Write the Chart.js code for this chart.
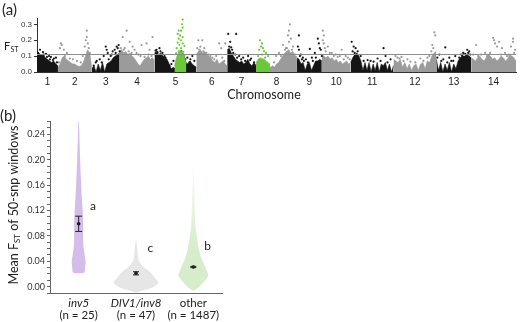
<!DOCTYPE html>
<html>
<head>
<meta charset="utf-8">
<script src="https://cdn.jsdelivr.net/npm/chart.js@4.4.0/dist/chart.umd.min.js"></script>
<style>
  html, body { margin: 0; padding: 0; background: #fff; }
  #wrap { position: relative; width: 520px; height: 322px; }
  canvas { position: absolute; left: 0; }
  #manhattan { top: 0; }
  #violins { top: 105px; }
</style>
</head>
<body>
<div id="wrap">
  <canvas id="manhattan" width="520" height="105"></canvas>
  <canvas id="violins" width="520" height="217"></canvas>
</div>
<script>
// ---- panel (a): genome scan ----
const chromLabels = ['1', '2', '3', '4', '5', '6', '7', '8', '9', '10', '11', '12', '13', '14'];
const chromBounds = [0, 21, 55, 83, 118, 160, 191, 220, 261, 286, 315, 358, 401, 436, 481];
const fstTicks = [0, 0.1, 0.2, 0.3];
const fstThreshold = 0.11;

// upper edge of the dense band of windows, left to right inside each chromosome
const chromEnvelope = [
  [0.13, 0.12, 0.10, 0.11, 0.09, 0.08, 0.07, 0.06, 0.07, 0.05, 0.04],
  [0.03, 0.05, 0.09, 0.10, 0.08, 0.07, 0.06, 0.05, 0.05, 0.04, 0.035, 0.04, 0.06, 0.10, 0.14, 0.12, 0.03],
  [0.02, 0.04, 0.0, 0.05, 0.01, 0.06, 0.0, 0.05, 0.06, 0.07, 0.09, 0.10, 0.11, 0.12],
  [0.13, 0.14, 0.12, 0.13, 0.11, 0.12, 0.10, 0.09, 0.07, 0.05, 0.04, 0.06, 0.08, 0.09, 0.10, 0.08, 0.09, 0.07],
  [0.12, 0.13, 0.11, 0.12, 0.10, 0.09, 0.08, 0.05, 0.02, 0.03, 0.02, 0.03, 0.05, 0.10, 0.11, 0.06, 0.05, 0.07, 0.05, 0.04, 0.03],
  [0.11, 0.13, 0.14, 0.12, 0.13, 0.11, 0.10, 0.09, 0.07, 0.06, 0.08, 0.05, 0.06, 0.07, 0.05, 0.04],
  [0.14, 0.15, 0.12, 0.10, 0.08, 0.07, 0.06, 0.07, 0.05, 0.06, 0.08, 0.05, 0.04, 0.06, 0.04],
  [0.04, 0.05, 0.05, 0.05, 0.04, 0.04, 0.03, 0.03, 0.04, 0.03, 0.05, 0.06, 0.08, 0.10, 0.12, 0.13, 0.14, 0.12, 0.13, 0.10, 0.08],
  [0.09, 0.08, 0.05, 0.06, 0.01, 0.05, 0.06, 0.01, 0.04, 0.07, 0.07, 0.08, 0.07],
  [0.11, 0.10, 0.09, 0.10, 0.08, 0.09, 0.07, 0.08, 0.06, 0.07, 0.05, 0.06, 0.07, 0.05, 0.06],
  [0.06, 0.09, 0.11, 0.12, 0.10, 0.07, 0.01, 0.06, 0.01, 0.06, 0.0, 0.05, 0.01, 0.06, 0.0, 0.05, 0.04, 0.06, 0.01, 0.05, 0.0, 0.04],
  [0.08, 0.07, 0.06, 0.08, 0.03, 0.06, 0.02, 0.05, 0.01, 0.04, 0.05, 0.01, 0.05, 0.06, 0.02, 0.07, 0.06, 0.10, 0.12, 0.13],
  [0.08, 0.01, 0.06, 0.0, 0.05, 0.01, 0.06, 0.0, 0.05, 0.02, 0.07, 0.09, 0.10, 0.10, 0.11, 0.10, 0.09],
  [0.09, 0.08, 0.07, 0.09, 0.10, 0.08, 0.07, 0.09, 0.11, 0.10, 0.08, 0.09, 0.07, 0.08, 0.10, 0.09, 0.07, 0.08, 0.11, 0.10, 0.09, 0.07]
];

// single windows standing out of the band: [position, Fst]
const chromOutliers = [
  [[3, 0.14], [6, 0.125], [9, 0.115], [12, 0.10], [14, 0.095], [17, 0.085], [19, 0.09], [1, 0.12], [4, 0.105], [7, 0.11], [10, 0.095], [13, 0.08], [16, 0.075], [20, 0.06]],
  [[24, 0.18], [25, 0.17], [27, 0.14], [23, 0.15], [30, 0.12], [50, 0.26], [50, 0.22], [49, 0.2], [51, 0.18], [48, 0.16], [52, 0.15],
   [22, 0.06], [28, 0.1], [33, 0.085], [36, 0.08], [40, 0.07], [44, 0.06], [46, 0.1], [53, 0.12]],
  [[60, 0.07], [63, 0.08], [65, 0.06], [67, 0.1], [69, 0.16], [70, 0.14], [71, 0.12], [76, 0.13], [78, 0.14], [80, 0.16], [81, 0.15], [82, 0.17], [74, 0.1],
   [57, 0.04], [59, 0.06], [72, 0.08], [75, 0.11], [79, 0.12], [83, 0.13]],
  [[86, 0.22], [90, 0.26], [93, 0.19], [96, 0.16], [88, 0.15], [98, 0.14], [105, 0.17], [116, 0.22], [110, 0.18], [113, 0.14], [100, 0.12],
   [84, 0.15], [87, 0.14], [92, 0.13], [95, 0.12], [102, 0.11], [104, 0.1], [108, 0.095], [112, 0.11], [115, 0.1]],
  [[123, 0.15], [120, 0.14], [126, 0.12], [128, 0.1], [133, 0.04], [135, 0.05], [151, 0.09], [154, 0.08], [156, 0.1], [158, 0.07], [145, 0.13], [146, 0.115],
   [119, 0.135], [121, 0.125], [124, 0.13], [129, 0.09], [137, 0.07], [149, 0.08], [153, 0.06]],
  [[162, 0.2], [166, 0.2], [164, 0.16], [168, 0.15], [170, 0.12], [183, 0.18], [185, 0.15], [180, 0.1], [176, 0.09], [189, 0.18],
   [161, 0.15], [163, 0.14], [167, 0.13], [172, 0.11], [174, 0.1], [178, 0.08], [186, 0.09], [188, 0.07]],
  [[192, 0.24], [200, 0.24], [194, 0.19], [195, 0.155], [197, 0.12], [203, 0.1], [207, 0.09], [212, 0.1], [215, 0.085],
   [193, 0.16], [196, 0.14], [199, 0.11], [201, 0.09], [205, 0.08], [209, 0.07], [214, 0.075], [218, 0.06]],
  [[254, 0.3], [253, 0.26], [252, 0.23], [255, 0.21], [253, 0.19], [247, 0.17], [250, 0.15], [257, 0.16], [243, 0.12], [240, 0.1],
   [238, 0.06], [245, 0.1], [249, 0.14], [251, 0.15], [256, 0.14], [259, 0.11], [260, 0.095]],
  [[263, 0.23], [262, 0.16], [263, 0.14], [265, 0.11], [267, 0.09], [270, 0.08], [274, 0.145], [276, 0.09], [279, 0.12], [282, 0.21], [284, 0.15], [285, 0.14], [283, 0.18],
   [264, 0.1], [266, 0.08], [268, 0.07], [272, 0.06], [277, 0.07], [280, 0.09], [286, 0.1]],
  [[287, 0.26], [288, 0.23], [287, 0.2], [288, 0.18], [289, 0.15], [292, 0.16], [296, 0.12], [306, 0.14], [300, 0.11], [310, 0.1],
   [290, 0.13], [294, 0.12], [298, 0.1], [302, 0.095], [304, 0.1], [308, 0.08], [312, 0.09], [314, 0.08]],
  [[316, 0.19], [318, 0.16], [320, 0.15], [322, 0.13], [325, 0.1], [335, 0.07], [342, 0.085], [348, 0.15], [350, 0.1], [355, 0.08],
   [317, 0.13], [319, 0.12], [321, 0.11], [328, 0.07], [332, 0.075], [338, 0.065], [345, 0.07], [352, 0.06]],
  [[360, 0.1], [366, 0.095], [372, 0.08], [385, 0.085], [392, 0.09], [397, 0.17], [399, 0.25], [400, 0.23], [398, 0.15], [396, 0.13],
   [362, 0.09], [364, 0.085], [368, 0.07], [375, 0.065], [380, 0.06], [388, 0.07], [394, 0.1]],
  [[404, 0.11], [410, 0.155], [414, 0.09], [416, 0.07], [420, 0.1], [428, 0.12], [432, 0.14], [434, 0.13], [430, 0.115], [426, 0.11],
   [402, 0.09], [406, 0.07], [408, 0.08], [412, 0.06], [418, 0.07], [424, 0.09], [427, 0.1], [433, 0.12], [435, 0.11]],
  [[441, 0.17], [450, 0.12], [458, 0.215], [459, 0.2], [460, 0.18], [464, 0.19], [462, 0.16], [467, 0.15], [470, 0.12], [478, 0.21], [478, 0.19], [476, 0.16], [480, 0.14],
   [438, 0.11], [443, 0.1], [446, 0.11], [452, 0.1], [455, 0.12], [466, 0.11], [472, 0.1], [474, 0.11], [479, 0.12]]
];

// inversion windows (green)
const inv5Bounds = [138, 150];
const inv5Envelope = [0.04, 0.09, 0.12, 0.14, 0.12, 0.10, 0.05];
const inv5Points = [[146.3, 0.33], [145.7, 0.30], [146.3, 0.28], [144.7, 0.26], [142.3, 0.26], [141.3, 0.24], [143.7, 0.23], [146.3, 0.22],
  [142.3, 0.21], [144.7, 0.2], [141.3, 0.185], [146.3, 0.18], [143, 0.17], [148, 0.165], [140.3, 0.15], [144.7, 0.15], [142.3, 0.13],
  [147, 0.127], [139.7, 0.117], [144, 0.11], [148, 0.106], [141.3, 0.096], [145.7, 0.085], [143, 0.065], [147.3, 0.054], [140.7, 0.044]];
const inv8Bounds = [220, 234];
const inv8Envelope = [0.06, 0.08, 0.09, 0.085, 0.08, 0.07, 0.06, 0.05];
const inv8Points = [[224, 0.2], [226, 0.18], [225, 0.16], [227, 0.15], [223, 0.14], [228, 0.13], [230, 0.12], [226, 0.11], [232, 0.1], [222, 0.1], [229, 0.09]];

// ---- panel (b): violins ----
const groupNames = ['inv5', 'DIV1/inv8', 'other'];
const groupCounts = [25, 47, 1487];
const groupLetters = ['a', 'c', 'b'];
const letterLevels = [0.127, 0.061, 0.064];
const groupMeans = [0.099, 0.021, 0.031];
const groupErrors = [0.012, 0.0025, 0.001];
const violinLevels = [
  [0.265, 0.24, 0.20, 0.17, 0.14, 0.12, 0.10, 0.08, 0.065, 0.05, 0.04, 0.03, 0.022],
  [0.072, 0.06, 0.05, 0.04, 0.03, 0.026, 0.02, 0.01, 0.006, 0.0, -0.005, -0.009],
  [0.23, 0.20, 0.15, 0.10, 0.08, 0.06, 0.045, 0.035, 0.025, 0.018, 0.01, 0.0, -0.006]
];
const violinDensity = [
  [0.013, 0.031, 0.067, 0.102, 0.142, 0.178, 0.2, 0.2, 0.213, 0.267, 0.311, 0.289, 0.244],
  [0.013, 0.053, 0.08, 0.133, 0.356, 0.533, 0.711, 0.933, 1.0, 0.8, 0.4, 0.044],
  [0.009, 0.022, 0.044, 0.089, 0.156, 0.244, 0.356, 0.489, 0.6, 0.667, 0.533, 0.267, 0.022]
];
const fstAxisMin = -0.01;
const fstAxisMax = 0.26;

const black = '#151515';
const grey = '#9b9b9b';
const green = '#6cc83a';
const violinColors = ['#d5bde9', '#e6e6e6', 'rgba(214,236,203,1)'];
const violinScale = 0.39;

function spread(values, from, to) {
  const step = (to - from) / (values.length - 1);
  return values.map((v, k) => ({x: from + k * step, y: v}));
}
const toXY = pts => pts.map(p => ({x: p[0], y: p[1]}));

const chromCenters = chromLabels.map((l, i) => (chromBounds[i] + chromBounds[i + 1]) / 2);

const manhattanSets = [];
chromEnvelope.forEach((env, i) => {
  const col = i % 2 === 0 ? black : grey;
  manhattanSets.push({
    data: spread(env, chromBounds[i], chromBounds[i + 1]),
    showLine: true, fill: 'origin', backgroundColor: col, borderColor: col,
    borderWidth: 0.6, pointRadius: 0, order: 6
  });
  manhattanSets.push({
    data: toXY(chromOutliers[i]), backgroundColor: col, pointRadius: 1.1,
    pointBorderWidth: 0, order: 5
  });
});
[[inv5Envelope, inv5Bounds, inv5Points], [inv8Envelope, inv8Bounds, inv8Points]].forEach(([env, b, pts]) => {
  manhattanSets.push({
    data: spread(env, b[0], b[1]), showLine: true, fill: 'origin',
    backgroundColor: green, borderColor: green, borderWidth: 0.6, pointRadius: 0, order: 3
  });
  manhattanSets.push({data: toXY(pts), backgroundColor: green, pointRadius: 1.1, pointBorderWidth: 0, order: 2});
});
manhattanSets.push({
  data: [{x: chromBounds[0], y: fstThreshold}, {x: chromBounds[chromBounds.length - 1], y: fstThreshold}],
  showLine: true, borderColor: '#8c8c8c', borderWidth: 1, pointRadius: 0, order: 1
});

const manhattanText = {
  id: 'manhattanText',
  afterDraw(chart) {
    const c = chart.ctx;
    const ys = chart.scales.y;
    c.save();
    c.fillStyle = '#333';
    c.textBaseline = 'middle';
    // y tick labels
    c.textAlign = 'right';
    c.font = '8px "Liberation Sans"';
    fstTicks.forEach(v => c.fillText(v.toFixed(1), ys.left + ys.width - 5, ys.getPixelForValue(v)));
    c.textAlign = 'left';
    c.fillStyle = '#222';
    c.font = '15px Lato';
    c.fillText('(a)', 2, 10);
    c.font = '11px Lato';
    c.fillText('F', 4, 46);
    c.font = '7px Lato';
    c.fillText('ST', 10.5, 50);
    c.font = '12.5px Lato';
    c.textAlign = 'center';
    c.fillText('Chromosome', 264, 95);
    c.restore();
  }
};

new Chart(document.getElementById('manhattan'), {
  type: 'scatter',
  data: {datasets: manhattanSets},
  options: {
    responsive: false,
    animation: false,
    events: [],
    layout: {padding: {top: 18, right: 2, left: 0, bottom: 0}},
    plugins: {legend: {display: false}, tooltip: {enabled: false}},
    scales: {
      x: {
        type: 'linear', min: chromBounds[0], max: chromBounds[chromBounds.length - 1],
        afterFit: s => { s.height = 33; },
        afterBuildTicks: s => { s.ticks = chromCenters.map(v => ({value: v})); },
        ticks: {
          autoSkip: false, maxRotation: 0, padding: 4, color: '#222',
          font: {family: 'Liberation Sans', size: 10},
          callback: (v, i) => chromLabels[i]
        },
        grid: {display: false, drawTicks: false},
        border: {color: '#333', width: 1}
      },
      y: {
        min: 0, max: 0.34,
        afterFit: s => { s.width = 37; },
        afterBuildTicks: s => { s.ticks = fstTicks.map(v => ({value: v})); },
        ticks: {display: false},
        grid: {drawOnChartArea: false, tickLength: 3, color: '#333'},
        border: {color: '#333', width: 1}
      }
    }
  },
  plugins: [manhattanText]
});

// ---- violins ----
function violinOutline(center, levels, density) {
  const right = levels.map((y, k) => ({x: center + density[k] * violinScale, y}));
  const left = levels.map((y, k) => ({x: center - density[k] * violinScale, y})).reverse();
  return right.concat(left);
}

const violinSets = groupNames.map((g, i) => ({
  data: violinOutline(i + 0.5, violinLevels[i], violinDensity[i]),
  showLine: true, fill: 'shape', borderWidth: 0, pointRadius: 0, tension: 0.25,
  borderColor: 'rgba(0,0,0,0)',
  backgroundColor: i < 2 ? violinColors[i] : (ctx => {
    const ch = ctx.chart;
    if (!ch.chartArea) return violinColors[i];
    const ys = ch.scales.y;
    const grad = ch.ctx.createLinearGradient(0, ys.getPixelForValue(0.21), 0, ys.getPixelForValue(0.06));
    grad.addColorStop(0, 'rgba(214,236,203,0)');
    grad.addColorStop(1, 'rgba(214,236,203,1)');
    return grad;
  }),
  order: 3
}));
violinSets.push({
  data: groupMeans.map((m, i) => ({x: i + 0.5, y: m})),
  backgroundColor: '#111', pointRadius: 1.8, pointBorderWidth: 0, order: 1
});

const violinText = {
  id: 'violinText',
  afterDatasetsDraw(chart) {
    const c = chart.ctx;
    const xs = chart.scales.x, ys = chart.scales.y;
    const area = chart.chartArea;
    c.save();
    // error bars
    c.strokeStyle = '#222';
    c.lineWidth = 1;
    groupMeans.forEach((m, i) => {
      const px = xs.getPixelForValue(i + 0.5);
      const top = ys.getPixelForValue(m + groupErrors[i]);
      const bot = ys.getPixelForValue(m - groupErrors[i]);
      const cap = i === 0 ? 3.5 : 3;
      c.beginPath();
      c.moveTo(px, top); c.lineTo(px, bot);
      c.moveTo(px - cap, top); c.lineTo(px + cap, top);
      c.moveTo(px - cap, bot); c.lineTo(px + cap, bot);
      c.stroke();
    });
    c.fillStyle = '#222';
    c.textBaseline = 'middle';
    // letters
    c.font = '12px Lato';
    c.textAlign = 'center';
    groupLetters.forEach((l, i) => {
      c.fillText(l, xs.getPixelForValue(i + 0.75), ys.getPixelForValue(letterLevels[i]));
    });
    // group labels
    groupNames.forEach((g, i) => {
      const px = xs.getPixelForValue(i + 0.5);
      c.font = (i < 2 ? 'italic ' : '') + '11.5px Lato';
      c.fillText(g, px, area.bottom + 10);
      c.font = '11.5px Lato';
      c.fillText('(n = ' + groupCounts[i] + ')', px, area.bottom + 22);
    });
    // panel label
    c.textAlign = 'left';
    c.font = '15px Lato';
    c.fillText('(b)', 0, 11);
    // y title with subscript
    c.translate(13, 100);
    c.rotate(-Math.PI / 2);
    c.textBaseline = 'alphabetic';
    c.font = '12.5px Lato';
    const p1 = 'Mean F', p3 = ' of 50-snp windows';
    const w1 = c.measureText(p1).width, w3 = c.measureText(p3).width;
    c.font = '8px Lato';
    const w2 = c.measureText('ST').width;
    const x0 = -(w1 + w2 + w3) / 2;
    c.font = '12.5px Lato';
    c.fillText(p1, x0, 4.5);
    c.font = '8px Lato';
    c.fillText('ST', x0 + w1, 7);
    c.font = '12.5px Lato';
    c.fillText(p3, x0 + w1 + w2, 4.5);
    c.restore();
  }
};

new Chart(document.getElementById('violins'), {
  type: 'scatter',
  data: {datasets: violinSets},
  options: {
    responsive: false,
    animation: false,
    events: [],
    layout: {padding: {top: 16.6, right: 298, left: 0, bottom: 0}},
    plugins: {legend: {display: false}, tooltip: {enabled: false}},
    scales: {
      x: {
        type: 'linear', min: 0, max: groupNames.length,
        afterFit: s => { s.height = 29; },
        ticks: {display: false},
        grid: {display: false, drawTicks: false},
        border: {color: '#666', width: 1}
      },
      y: {
        min: fstAxisMin, max: fstAxisMax,
        afterFit: s => { s.width = 50; },
        ticks: {
          stepSize: 0.01, includeBounds: false, autoSkip: false, padding: 2,
          color: '#333', font: {family: 'Lato', size: 9},
          callback: v => {
            const k = Math.round(v * 100);
            return (k >= 0 && k % 4 === 0) ? (k / 100).toFixed(2) : '';
          }
        },
        grid: {drawOnChartArea: false, tickLength: 3, color: '#666'},
        border: {color: '#666', width: 1}
      }
    }
  },
  plugins: [violinText]
});
</script>
</body>
</html>
